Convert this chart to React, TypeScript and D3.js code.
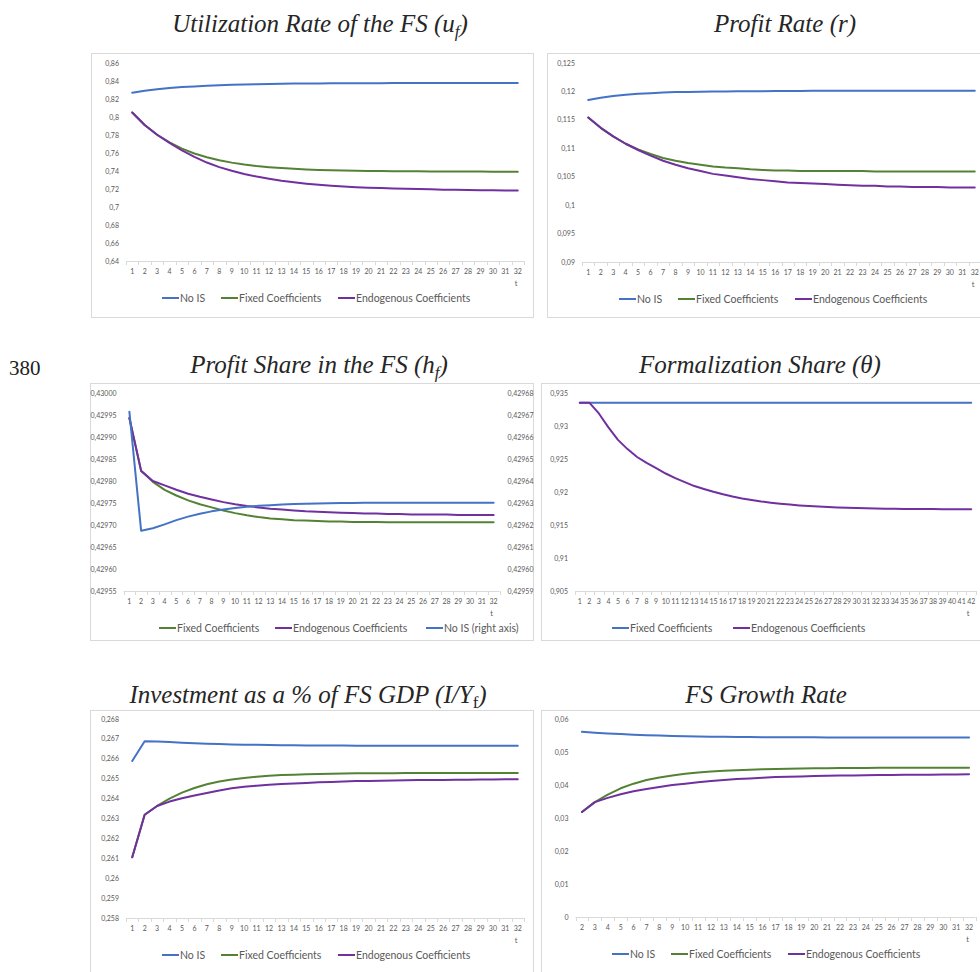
import React from 'react';
import * as d3 from 'd3';

const BLUE = '#4472C4';
const GREEN = '#548235';
const PURPLE = '#7030A0';
const SANS = 'Lato, "Open Sans", sans-serif';
const SERIF = '"Liberation Serif", "Times New Roman", serif';

// categories (t)
const t32 = [1, 2, 3, 4, 5, 6, 7, 8, 9, 10, 11, 12, 13, 14, 15, 16, 17, 18, 19, 20, 21, 22, 23, 24, 25, 26, 27, 28, 29, 30, 31, 32];
const t42 = [1, 2, 3, 4, 5, 6, 7, 8, 9, 10, 11, 12, 13, 14, 15, 16, 17, 18, 19, 20, 21, 22, 23, 24, 25, 26, 27, 28, 29, 30, 31, 32, 33, 34, 35, 36, 37, 38, 39, 40, 41, 42];
const t2to32 = [2, 3, 4, 5, 6, 7, 8, 9, 10, 11, 12, 13, 14, 15, 16, 17, 18, 19, 20, 21, 22, 23, 24, 25, 26, 27, 28, 29, 30, 31, 32];

// Utilization rate of the FS
const uNoIS = [0.827, 0.8292, 0.8308, 0.8321, 0.8332, 0.834, 0.8347, 0.8353, 0.8358, 0.8362, 0.8365, 0.8367, 0.8369, 0.8371, 0.8372, 0.8373, 0.8374, 0.8375, 0.8375, 0.8376, 0.8376, 0.8377, 0.8377, 0.8377, 0.8377, 0.8378, 0.8378, 0.8378, 0.8378, 0.8378, 0.8378, 0.8378];
const uFixed = [0.805, 0.7912, 0.7803, 0.7717, 0.7649, 0.7595, 0.7553, 0.7519, 0.7493, 0.7472, 0.7455, 0.7442, 0.7432, 0.7424, 0.7417, 0.7412, 0.7408, 0.7405, 0.7402, 0.74, 0.7399, 0.7398, 0.7397, 0.7396, 0.7395, 0.7395, 0.7394, 0.7394, 0.7394, 0.7393, 0.7393, 0.7393];
const uEndo = [0.805, 0.7912, 0.7803, 0.7712, 0.7628, 0.7556, 0.7494, 0.7443, 0.7402, 0.7367, 0.7338, 0.7313, 0.7291, 0.7274, 0.7259, 0.7246, 0.7235, 0.7227, 0.722, 0.7215, 0.721, 0.7206, 0.7202, 0.7199, 0.7196, 0.7193, 0.7191, 0.7189, 0.7187, 0.7186, 0.7184, 0.7183];
const uTicks = [0.64, 0.66, 0.68, 0.7, 0.72, 0.74, 0.76, 0.78, 0.8, 0.82, 0.84, 0.86];

// Profit rate
const rNoIS = [0.1185, 0.1189, 0.1192, 0.1194, 0.1196, 0.1197, 0.1198, 0.1199, 0.1199, 0.11995, 0.12, 0.12, 0.12005, 0.12005, 0.12005, 0.12008, 0.12008, 0.12008, 0.1201, 0.1201, 0.1201, 0.1201, 0.1201, 0.1201, 0.1201, 0.1201, 0.1201, 0.1201, 0.1201, 0.1201, 0.1201, 0.1201];
const rFixed = [0.1154, 0.1136, 0.1121, 0.1108, 0.1098, 0.109, 0.1083, 0.1078, 0.1074, 0.1071, 0.1068, 0.1066, 0.1065, 0.1063, 0.1062, 0.1061, 0.1061, 0.106, 0.106, 0.106, 0.106, 0.106, 0.106, 0.1059, 0.1059, 0.1059, 0.1059, 0.1059, 0.1059, 0.1059, 0.1059, 0.1059];
const rEndo = [0.1154, 0.1136, 0.1121, 0.1108, 0.1097, 0.1087, 0.1078, 0.1071, 0.1065, 0.106, 0.1055, 0.1052, 0.1049, 0.1046, 0.1044, 0.1042, 0.104, 0.1039, 0.1038, 0.1037, 0.1036, 0.1035, 0.1034, 0.1034, 0.1033, 0.1033, 0.1032, 0.1032, 0.1032, 0.1031, 0.1031, 0.1031];
const rTicks = [0.09, 0.095, 0.1, 0.105, 0.11, 0.115, 0.12, 0.125];

// Profit share in the FS
const hFixed = [0.429943, 0.429823, 0.429798, 0.42978, 0.429767, 0.429756, 0.429747, 0.42974, 0.429733, 0.429727, 0.429722, 0.429718, 0.429715, 0.429713, 0.429711, 0.42971, 0.429709, 0.429708, 0.429708, 0.429707, 0.429707, 0.429707, 0.429706, 0.429706, 0.429706, 0.429706, 0.429706, 0.429706, 0.429706, 0.429706, 0.429706, 0.429706];
const hEndo = [0.429943, 0.429823, 0.4298, 0.42979, 0.42978, 0.429771, 0.429764, 0.429758, 0.429752, 0.429747, 0.429743, 0.42974, 0.429737, 0.429735, 0.429733, 0.429731, 0.42973, 0.429729, 0.429728, 0.429727, 0.429726, 0.429726, 0.429725, 0.429725, 0.429724, 0.429724, 0.429724, 0.429724, 0.429723, 0.429723, 0.429723, 0.429723];
const hNoIS = [0.4296715, 0.4296174, 0.4296185, 0.4296203, 0.4296222, 0.4296238, 0.4296251, 0.4296262, 0.429627, 0.4296277, 0.4296283, 0.4296287, 0.429629, 0.4296293, 0.4296295, 0.4296297, 0.4296298, 0.4296299, 0.42963, 0.42963, 0.4296301, 0.4296301, 0.4296301, 0.4296301, 0.4296301, 0.4296301, 0.4296301, 0.4296301, 0.4296301, 0.4296301, 0.4296301, 0.4296301];
const hTicks = [0.42955, 0.4296, 0.42965, 0.4297, 0.42975, 0.4298, 0.42985, 0.4299, 0.42995, 0.43];
const hTicksRight = [0.42959, 0.4296, 0.42961, 0.42962, 0.42963, 0.42964, 0.42965, 0.42966, 0.42967, 0.42968];

// Formalization share
const thFixed = [0.93353, 0.93353, 0.93353, 0.93353, 0.93353, 0.93353, 0.93353, 0.93353, 0.93353, 0.93353, 0.93353, 0.93353, 0.93353, 0.93353, 0.93353, 0.93353, 0.93353, 0.93353, 0.93353, 0.93353, 0.93353, 0.93353, 0.93353, 0.93353, 0.93353, 0.93353, 0.93353, 0.93353, 0.93353, 0.93353, 0.93353, 0.93353, 0.93353, 0.93353, 0.93353, 0.93353, 0.93353, 0.93353, 0.93353, 0.93353, 0.93353, 0.93353];
const thEndo = [0.93353, 0.93353, 0.9319, 0.9298, 0.9279, 0.9265, 0.9253, 0.9244, 0.9236, 0.9228, 0.9221, 0.9215, 0.9209, 0.92045, 0.92003, 0.91965, 0.91932, 0.91903, 0.91878, 0.91856, 0.91838, 0.91822, 0.91809, 0.91797, 0.91787, 0.91779, 0.91772, 0.91766, 0.91761, 0.91757, 0.91753, 0.9175, 0.91748, 0.91746, 0.91744, 0.91743, 0.91742, 0.91741, 0.9174, 0.91739, 0.91739, 0.91738];
const thTicks = [0.905, 0.91, 0.915, 0.92, 0.925, 0.93, 0.935];

// Investment as a % of FS GDP
const iNoIS = [0.26589, 0.26688, 0.26687, 0.26684, 0.26681, 0.26678, 0.26676, 0.26674, 0.26672, 0.26671, 0.2667, 0.26669, 0.26668, 0.26668, 0.26667, 0.26667, 0.26667, 0.26667, 0.26666, 0.26666, 0.26666, 0.26666, 0.26666, 0.26666, 0.26666, 0.26666, 0.26666, 0.26666, 0.26666, 0.26666, 0.26666, 0.26666];
const iFixed = [0.26105, 0.26319, 0.26363, 0.264, 0.2643, 0.26453, 0.26472, 0.26486, 0.26496, 0.26504, 0.2651, 0.26515, 0.26518, 0.2652, 0.26522, 0.26524, 0.26525, 0.26526, 0.26527, 0.26528, 0.26528, 0.26528, 0.26529, 0.26529, 0.26529, 0.26529, 0.26529, 0.26529, 0.26529, 0.26529, 0.26529, 0.26529];
const iEndo = [0.26105, 0.26319, 0.26363, 0.26385, 0.26402, 0.26416, 0.26428, 0.26441, 0.26452, 0.2646, 0.26465, 0.26469, 0.26473, 0.26476, 0.26479, 0.26482, 0.26484, 0.26486, 0.26488, 0.26489, 0.2649, 0.26491, 0.26492, 0.26493, 0.26494, 0.26494, 0.26495, 0.26495, 0.26496, 0.26496, 0.26497, 0.26497];
const iTicks = [0.258, 0.259, 0.26, 0.261, 0.262, 0.263, 0.264, 0.265, 0.266, 0.267, 0.268];

// FS growth rate
const gNoIS = [0.0561, 0.05585, 0.05562, 0.05542, 0.05525, 0.0551, 0.05497, 0.05486, 0.05477, 0.0547, 0.05464, 0.05459, 0.05455, 0.05452, 0.0545, 0.05448, 0.05446, 0.05445, 0.05444, 0.05443, 0.05442, 0.05442, 0.05441, 0.05441, 0.0544, 0.0544, 0.0544, 0.0544, 0.0544, 0.0544, 0.0544];
const gFixed = [0.0318, 0.0348, 0.0371, 0.039, 0.0404, 0.0415, 0.0423, 0.0429, 0.0434, 0.0438, 0.0441, 0.0443, 0.0445, 0.04465, 0.04477, 0.04487, 0.04494, 0.045, 0.04505, 0.04509, 0.04512, 0.04515, 0.04517, 0.04519, 0.0452, 0.04521, 0.04522, 0.04523, 0.04524, 0.04524, 0.04525];
const gEndo = [0.0318, 0.0348, 0.0361, 0.0372, 0.0381, 0.0388, 0.0394, 0.04, 0.0404, 0.0408, 0.0412, 0.0415, 0.0418, 0.042, 0.0422, 0.0424, 0.0425, 0.0426, 0.0427, 0.0428, 0.04285, 0.0429, 0.04295, 0.043, 0.04305, 0.04308, 0.0431, 0.04313, 0.04316, 0.0432, 0.04323];
const gTicks = [0, 0.01, 0.02, 0.03, 0.04, 0.05, 0.06];

const general = (v: number) => String(+v.toFixed(6)).replace('.', ',');
const fixed5 = (v: number) => v.toFixed(5).replace('.', ',');

type Series = { name: string; color: string; values: number[]; right?: boolean };
type Spec = {
  title: React.ReactNode;
  titleX: number;
  titleY: number;
  box: [number, number, number, number];
  plot: { left: number; right: number; top: number; bottom: number };
  cats: number[];
  yTicks: number[];
  fmt: (v: number) => string;
  y2Ticks?: number[];
  series: Series[];
  legend: Series[];
  legendX: number[];
};

function Panel({ s }: { s: Spec }) {
  const { plot } = s;
  const x = d3.scaleBand<number>().domain(s.cats).range([plot.left, plot.right]);
  const cx = (c: number) => (x(c) as number) + x.bandwidth() / 2;
  const y = d3
    .scaleLinear()
    .domain(d3.extent(s.yTicks) as [number, number])
    .range([plot.bottom, plot.top]);
  const y2 = s.y2Ticks
    ? d3
        .scaleLinear()
        .domain(d3.extent(s.y2Ticks) as [number, number])
        .range([plot.bottom, plot.top])
    : null;
  const [bx, by, bw, bh] = s.box;
  const legendY = plot.bottom + 37;

  return (
    <g>
      <rect x={bx + 0.5} y={by + 0.5} width={bw} height={bh} fill="#fff" stroke="#d9d9d9" />
      <text
        x={s.titleX}
        y={s.titleY}
        textAnchor="middle"
        fontFamily={SERIF}
        fontStyle="italic"
        fontSize={25}
        fill="#262626"
      >
        {s.title}
      </text>
      {s.yTicks.map((v) => (
        <text
          key={'y' + v}
          x={plot.left - 7}
          y={y(v) + 2.5}
          textAnchor="end"
          fontFamily={SANS}
          fontSize={7}
          fill="#595959"
        >
          {s.fmt(v)}
        </text>
      ))}
      {y2 &&
        s.y2Ticks!.map((v) => (
          <text
            key={'y2' + v}
            x={plot.right + 8}
            y={y2(v) + 2.5}
            fontFamily={SANS}
            fontSize={7}
            fill="#595959"
          >
            {s.fmt(v)}
          </text>
        ))}
      <line x1={plot.left} x2={plot.right} y1={plot.bottom + 0.5} y2={plot.bottom + 0.5} stroke="#d9d9d9" />
      {[...s.cats, null].map((c, i) => {
        const xx = Math.round(plot.left + i * x.bandwidth()) + 0.5;
        return <line key={'tk' + i} x1={xx} x2={xx} y1={plot.bottom} y2={plot.bottom + 4} stroke="#d9d9d9" />;
      })}
      {s.cats.map((c) => (
        <text
          key={'x' + c}
          x={cx(c)}
          y={plot.bottom + 13}
          textAnchor="middle"
          fontFamily={SANS}
          fontSize={7}
          fill="#595959"
        >
          {c}
        </text>
      ))}
      <text
        x={plot.right - 8}
        y={plot.bottom + 25}
        textAnchor="middle"
        fontFamily={SANS}
        fontSize={7.5}
        fill="#595959"
      >
        t
      </text>
      {s.series.map((ser) => {
        const sc = ser.right && y2 ? y2 : y;
        const path = d3
          .line<number>()
          .x((_, i) => cx(s.cats[i]))
          .y((v) => sc(v))(ser.values);
        return (
          <path
            key={ser.name}
            d={path || ''}
            fill="none"
            stroke={ser.color}
            strokeWidth={2}
            strokeLinejoin="round"
            strokeLinecap="round"
          />
        );
      })}
      {s.legend.map((ser, i) => (
        <g key={'lg' + ser.name} transform={`translate(${s.legendX[i]},${legendY})`}>
          <line x1={0} x2={17} y1={0} y2={0} stroke={ser.color} strokeWidth={2} />
          <text x={18} y={3.8} fontFamily={SANS} fontSize={10.5} fill="#595959">
            {ser.name}
          </text>
        </g>
      ))}
    </g>
  );
}

const sub = (t: string, italic = true) => (
  <>
    <tspan fontSize={17} dy={5} fontStyle={italic ? 'italic' : 'normal'}>
      {t}
    </tspan>
    <tspan dy={-5}>)</tspan>
  </>
);

export default function App() {
  const noIS = (v: number[]): Series => ({ name: 'No IS', color: BLUE, values: v });
  const fixedS = (v: number[], color = GREEN): Series => ({ name: 'Fixed Coefficients', color, values: v });
  const endoS = (v: number[]): Series => ({ name: 'Endogenous Coefficients', color: PURPLE, values: v });

  const specs: Spec[] = [
    {
      title: (
        <>
          Utilization Rate of the FS (u{sub('f')}
        </>
      ),
      titleX: 320,
      titleY: 32,
      box: [91, 53, 442, 264],
      plot: { left: 126, right: 524, top: 63, bottom: 261 },
      cats: t32,
      yTicks: uTicks,
      fmt: general,
      series: [noIS(uNoIS), fixedS(uFixed), endoS(uEndo)],
      legend: [noIS(uNoIS), fixedS(uFixed), endoS(uEndo)],
      legendX: [162, 221, 338],
    },
    {
      title: 'Profit Rate (r)',
      titleX: 785,
      titleY: 32,
      box: [547, 53, 460, 264],
      plot: { left: 582, right: 981, top: 63, bottom: 262 },
      cats: t32,
      yTicks: rTicks,
      fmt: general,
      series: [noIS(rNoIS), fixedS(rFixed), endoS(rEndo)],
      legend: [noIS(rNoIS), fixedS(rFixed), endoS(rEndo)],
      legendX: [619, 678, 795],
    },
    {
      title: (
        <>
          Profit Share in the FS (h{sub('f')}
        </>
      ),
      titleX: 319,
      titleY: 373,
      box: [90, 383, 443, 257],
      plot: { left: 123.5, right: 499.5, top: 393, bottom: 591 },
      cats: t32,
      yTicks: hTicks,
      fmt: fixed5,
      y2Ticks: hTicksRight,
      series: [fixedS(hFixed), endoS(hEndo), { name: 'No IS (right axis)', color: BLUE, values: hNoIS, right: true }],
      legend: [fixedS(hFixed), endoS(hEndo), { name: 'No IS (right axis)', color: BLUE, values: hNoIS }],
      legendX: [159, 275, 426],
    },
    {
      title: 'Formalization Share (θ)',
      titleX: 760,
      titleY: 373,
      box: [541, 383, 460, 257],
      plot: { left: 575, right: 976, top: 393, bottom: 591 },
      cats: t42,
      yTicks: thTicks,
      fmt: general,
      series: [fixedS(thFixed, BLUE), endoS(thEndo)],
      legend: [fixedS(thFixed, BLUE), endoS(thEndo)],
      legendX: [612, 733],
    },
    {
      title: (
        <>
          Investment as a % of FS GDP (I/Y{sub('f', false)}
        </>
      ),
      titleX: 308,
      titleY: 703,
      box: [90, 710, 443, 290],
      plot: { left: 126, right: 524, top: 719, bottom: 918 },
      cats: t32,
      yTicks: iTicks,
      fmt: general,
      series: [noIS(iNoIS), fixedS(iFixed), endoS(iEndo)],
      legend: [noIS(iNoIS), fixedS(iFixed), endoS(iEndo)],
      legendX: [162, 221, 338],
    },
    {
      title: 'FS Growth Rate',
      titleX: 766,
      titleY: 703,
      box: [541, 710, 460, 290],
      plot: { left: 575.5, right: 975.5, top: 719, bottom: 917 },
      cats: t2to32,
      yTicks: gTicks,
      fmt: general,
      series: [noIS(gNoIS), fixedS(gFixed), endoS(gEndo)],
      legend: [noIS(gNoIS), fixedS(gFixed), endoS(gEndo)],
      legendX: [612, 671, 788],
    },
  ];

  return (
    <div style={{ position: 'absolute', left: 0, top: 0 }}>
      <svg width={980} height={972} style={{ display: 'block', background: '#fff' }}>
        <rect width={980} height={972} fill="#fff" />
        <text x={9} y={375} fontFamily={SERIF} fontSize={21} fill="#222">
          380
        </text>
        {specs.map((s, i) => (
          <Panel key={i} s={s} />
        ))}
      </svg>
    </div>
  );
}
